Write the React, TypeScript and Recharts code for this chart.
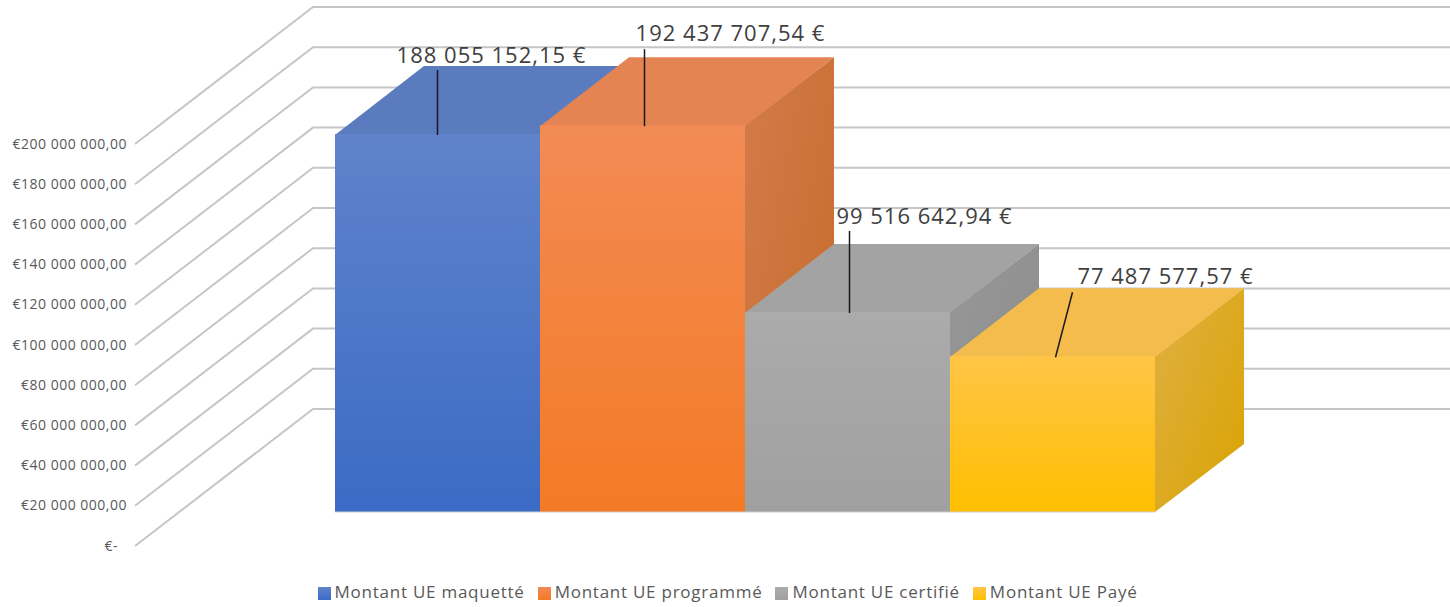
import React from 'react'
import { BarChart, Bar, XAxis, YAxis, CartesianGrid, Legend, LabelList } from 'recharts'

const seriesNames = ['Montant UE maquetté', 'Montant UE programmé', 'Montant UE certifié', 'Montant UE Payé']
const seriesValues = [188055152.15, 192437707.54, 99516642.94, 77487577.57]
const yTicks = [0, 20000000, 40000000, 60000000, 80000000, 100000000, 120000000, 140000000, 160000000, 180000000, 200000000]

const row: Record<string, string | number> = { name: 'Montant UE' }
seriesNames.forEach((n, i) => {
  row[n] = seriesValues[i]
})
const data = [row]

// 3D look: depth of the boxes and of the walls, in px
const BOX_DX = 89
const BOX_DY = 68
const WALL_LEFT = 135
const WALL_BACK = 313
const FRONT_SHIFT = 34
const BACK_SHIFT = 103

const colors = [
  { front: ['#6083cb', '#3b6bc5'], top: '#5b7bbf', side: ['#4f6ea8', '#345c9f'] },
  { front: ['#f28b55', '#f47a25'], top: '#e38452', side: ['#d37c4c', '#c56a28'] },
  { front: ['#ababab', '#a0a0a0'], top: '#a3a3a3', side: ['#979797', '#8c8c8c'] },
  { front: ['#ffc546', '#ffbf00'], top: '#f4bc4c', side: ['#e0b044', '#d9a300'] },
]

// where each value label and its leader line sit relative to the top of the box
const labelPlacement = [
  { textX: 54, textY: -80, lineX: 0, lineTopX: 0, lineTopY: -64 },
  { textX: 88, textY: -93, lineX: 2, lineTopX: 2, lineTopY: -76 },
  { textX: 77, textY: -97, lineX: 2, lineTopX: 2, lineTopY: -81 },
  { textX: 113, textY: -81, lineX: 3, lineTopX: 20, lineTopY: -64 },
]

const groupDigits = (n: number) => String(n).replace(/\B(?=(\d{3})+(?!\d))/g, ' ')

const formatLabel = (v: number) => {
  const [whole, dec] = v.toFixed(2).split('.')
  return `${groupDigits(Number(whole))},${dec} €`
}

const formatTick = (v: number) => (v === 0 ? '€-' : `€${groupDigits(v)},00`)

const WallLine = (props: any) => {
  const { y1 } = props
  return (
    <polyline
      points={`${WALL_LEFT},${y1 + FRONT_SHIFT} ${WALL_BACK},${y1 - BACK_SHIFT} 1450,${y1 - BACK_SHIFT}`}
      fill="none"
      stroke="#c6c6c6"
      strokeWidth={2}
    />
  )
}

const TickLabel = (props: any) => {
  const { y, payload } = props
  const isZero = payload.value === 0
  return (
    <text
      x={isZero ? 118 : 127}
      y={y + FRONT_SHIFT - 1}
      textAnchor="end"
      dominantBaseline="central"
      fontFamily="Open Sans"
      fontSize={14}
      letterSpacing={0.5}
      fill="#595959"
    >
      {formatTick(payload.value)}
    </text>
  )
}

const Box3D = (props: any) => {
  const { x, y, width, height, idx } = props
  const right = x + width
  const bottom = y + height
  return (
    <g>
      <polygon
        points={`${right},${y} ${right + BOX_DX},${y - BOX_DY} ${right + BOX_DX},${bottom - BOX_DY} ${right},${bottom}`}
        fill={`url(#side${idx})`}
      />
      <polygon
        points={`${x},${y + 1} ${x + BOX_DX},${y - BOX_DY} ${right + BOX_DX},${y - BOX_DY} ${right},${y + 1}`}
        fill={colors[idx].top}
      />
      <rect x={x} y={y} width={width} height={height} fill={`url(#front${idx})`} />
      <line x1={x} y1={bottom} x2={right} y2={bottom} stroke="#cfcfcf" strokeWidth={1} />
    </g>
  )
}

const ValueLabel = (props: any) => {
  const { x, y, width, value, idx } = props
  const cx = x + width / 2
  const p = labelPlacement[idx]
  return (
    <g>
      <line
        x1={cx + p.lineTopX}
        y1={y + p.lineTopY}
        x2={cx + p.lineX}
        y2={y + 1}
        stroke="#1a1a1a"
        strokeWidth={1.5}
      />
      <text
        x={cx + p.textX}
        y={y + p.textY}
        textAnchor="middle"
        dominantBaseline="central"
        fontFamily="Open Sans"
        fontSize={22}
        letterSpacing={1}
        fill="#404040"
      >
        {formatLabel(value)}
      </text>
    </g>
  )
}

export default function App() {
  return (
    <div style={{ position: 'absolute', left: 0, top: 0, width: 1450, height: 607, background: '#fff' }}>
      <style>{`.recharts-legend-item { margin-right: 13px !important; }`}</style>
      <BarChart
        width={1450}
        height={607}
        data={data}
        barCategoryGap={0}
        barGap={0}
        margin={{ top: 110, right: 295, bottom: 71, left: 215 }}
      >
        <defs>
          {colors.map((c, i) => (
            <React.Fragment key={i}>
              <linearGradient id={`front${i}`} x1="0" y1="0" x2="0" y2="1">
                <stop offset="0%" stopColor={c.front[0]} />
                <stop offset="100%" stopColor={c.front[1]} />
              </linearGradient>
              <linearGradient id={`side${i}`} x1="0" y1="0" x2="1" y2="1">
                <stop offset="0%" stopColor={c.side[0]} />
                <stop offset="100%" stopColor={c.side[1]} />
              </linearGradient>
            </React.Fragment>
          ))}
        </defs>
        <CartesianGrid vertical={false} horizontal={(p: any) => <WallLine key={p.index} {...p} />} />
        <XAxis dataKey="name" hide />
        <YAxis
          width={120}
          domain={[0, 200000000]}
          ticks={yTicks}
          axisLine={false}
          tickLine={false}
          interval={0}
          tick={TickLabel}
        />
        <Legend
          height={0}
          iconType="square"
          iconSize={13}
          itemSorter={null}
          wrapperStyle={{ left: 9, top: 580, width: 1450, height: 24, fontFamily: 'Open Sans', fontSize: 17, letterSpacing: 0.75 }}
          formatter={(value: string) => <span style={{ color: '#595959' }}>{value}</span>}
        />
        {seriesNames.map((name, i) => (
          <Bar
            key={name}
            dataKey={name}
            fill={`url(#front${i})`}
            isAnimationActive={false}
            shape={(p: any) => <Box3D {...p} idx={i} />}
          >
            <LabelList content={(p: any) => <ValueLabel {...p} idx={i} />} />
          </Bar>
        ))}
      </BarChart>
    </div>
  )
}
